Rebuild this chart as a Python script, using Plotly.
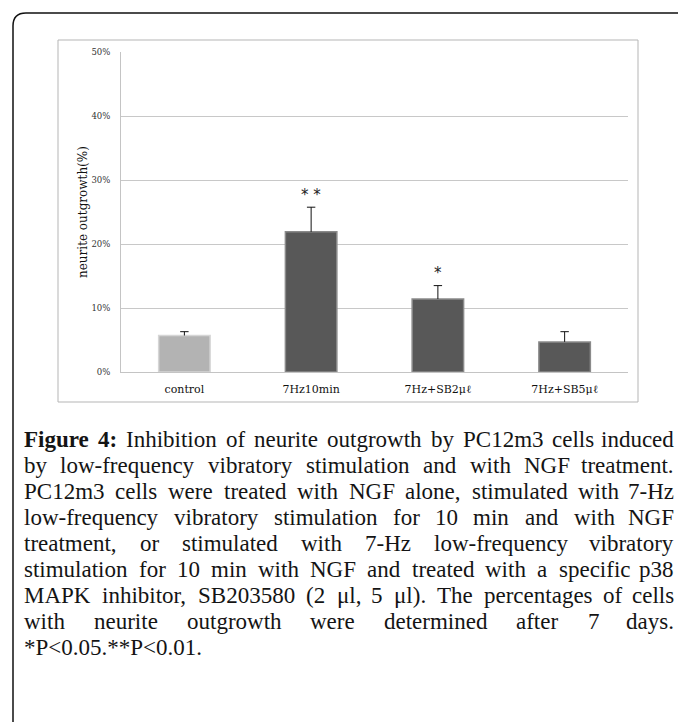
import plotly.graph_objects as go

# ---------------- data ----------------
categories = ["control", "7Hz10min", "7Hz+SB2μℓ", "7Hz+SB5μℓ"]
values = [5.7, 21.9, 11.4, 4.7]
errors = [0.6, 3.85, 2.1, 1.6]
significance = ["", "* *", "*", ""]
y_ticks = [0, 10, 20, 30, 40, 50]
y_tick_labels = ["0%", "10%", "20%", "30%", "40%", "50%"]
y_title = "neurite outgrowth(%)"
caption_bold_words = 2  # "Figure" and "4:" are bold
caption_lines = [
    "Figure 4: Inhibition of neurite outgrowth by PC12m3 cells induced",
    "by low-frequency vibratory stimulation and with NGF treatment.",
    "PC12m3 cells were treated with NGF alone, stimulated with 7-Hz",
    "low-frequency vibratory stimulation for 10 min and with NGF",
    "treatment, or stimulated with 7-Hz low-frequency vibratory",
    "stimulation for 10 min with NGF and treated with a specific p38",
    "MAPK inhibitor, SB203580 (2 μl, 5 μl). The percentages of cells",
    "with neurite outgrowth were determined after 7 days.",
    "*P<0.05.**P<0.01.",
]

# ---------------- layout geometry (pixels) ----------------
W_PX, H_PX = 678, 722
L, R, T, B = 121, 628, 52, 372


def fx(px):
    return (px - L) / (R - L)


def fy(py):
    return (B - py) / (B - T)


bar_colors = ["#b3b3b3", "#585858", "#585858", "#585858"]
bar_lines = ["#d6d6d6", "#8a8a8a", "#8a8a8a", "#8a8a8a"]

fig = go.Figure()
fig.add_trace(go.Bar(
    x=categories, y=values,
    marker=dict(color=bar_colors, line=dict(color=bar_lines, width=1.5)),
    showlegend=False, hoverinfo="skip",
))

# one-sided error bars (up only)
ex, ey = [], []
for c, v, e in zip(categories, values, errors):
    ex += [c, c, None]
    ey += [v, v + e, None]
fig.add_trace(go.Scatter(x=ex, y=ey, mode="lines",
                         line=dict(color="#111111", width=1),
                         showlegend=False, hoverinfo="skip"))
fig.add_trace(go.Scatter(x=categories, y=[v + e for v, e in zip(values, errors)],
                         mode="markers",
                         marker=dict(symbol="line-ew", size=6,
                                     line=dict(color="#111111", width=1)),
                         showlegend=False, hoverinfo="skip"))

annotations = []
for c, v, e, s in zip(categories, values, errors, significance):
    if s:
        annotations.append(dict(x=c, y=v + e + 1.9, xref="x", yref="y", text=s,
                                showarrow=False, yanchor="middle",
                                font=dict(family="DejaVu Sans", size=15, color="#222222")))

# y axis title
annotations.append(dict(x=fx(83), y=fy(212), xref="paper", yref="paper",
                        text=y_title, textangle=-90, showarrow=False,
                        xanchor="center", yanchor="middle",
                        font=dict(family="DejaVu Serif", size=12, color="#111111")))

# ---------------- caption (justified) ----------------
TIMES = {' ': 250, '!': 333, '(': 333, ')': 333, '*': 500, '+': 564, ',': 250, '-': 333,
         '.': 250, '/': 278, ':': 278, ';': 278, '<': 564, '=': 564, '>': 564, '?': 444,
         'A': 722, 'B': 667, 'C': 667, 'D': 722, 'E': 611, 'F': 556, 'G': 722, 'H': 722,
         'I': 333, 'J': 389, 'K': 722, 'L': 611, 'M': 889, 'N': 722, 'O': 722, 'P': 556,
         'Q': 722, 'R': 667, 'S': 556, 'T': 611, 'U': 722, 'V': 722, 'W': 944, 'X': 722,
         'Y': 722, 'Z': 611, 'a': 444, 'b': 500, 'c': 444, 'd': 500, 'e': 444, 'f': 333,
         'g': 500, 'h': 500, 'i': 278, 'j': 278, 'k': 500, 'l': 278, 'm': 778, 'n': 500,
         'o': 500, 'p': 500, 'q': 500, 'r': 333, 's': 389, 't': 278, 'u': 500, 'v': 500,
         'w': 722, 'x': 500, 'y': 500, 'z': 444, 'μ': 500}
TIMES_BOLD = dict(TIMES)
TIMES_BOLD.update({'F': 611, 'u': 556, 'r': 444, ':': 333, 'g': 500, 'i': 278, 'e': 444})


def text_w(s, fs, bold=False):
    tab = TIMES_BOLD if bold else TIMES
    return sum(tab.get(ch, 500) for ch in s) / 1000.0 * fs


def esc(s):
    return s.replace("&", "&amp;").replace("<", "&lt;").replace(">", "&gt;")


CAP_FS = 23
CAP_LEFT, CAP_RIGHT = 23, 675
CAP_BASE0, CAP_STEP = 447, 26
CAP_FONT = "Liberation Serif"
CAP_COLOR = "#141414"

for li, line in enumerate(caption_lines):
    base = CAP_BASE0 + li * CAP_STEP
    yc = base - 0.32 * CAP_FS
    words = line.split(" ")
    last = li == len(caption_lines) - 1
    if last:
        annotations.append(dict(x=fx(CAP_LEFT), y=fy(yc), xref="paper", yref="paper",
                                text=esc(line), showarrow=False, xanchor="left",
                                yanchor="middle", borderpad=0,
                                font=dict(family=CAP_FONT, size=CAP_FS, color=CAP_COLOR)))
        continue
    bolds = [(li == 0 and wi < caption_bold_words) for wi in range(len(words))]
    widths = [text_w(w, CAP_FS, b) for w, b in zip(words, bolds)]
    gap = (CAP_RIGHT - CAP_LEFT - sum(widths)) / max(1, len(words) - 1)
    xpos = CAP_LEFT
    for wi, (w, b, wd) in enumerate(zip(words, bolds, widths)):
        txt = "<b>" + esc(w) + "</b>" if b else esc(w)
        if wi == len(words) - 1 and wi > 0:
            annotations.append(dict(x=fx(CAP_RIGHT), y=fy(yc), xref="paper", yref="paper",
                                    text=txt, showarrow=False, xanchor="right",
                                    yanchor="middle", borderpad=0,
                                    font=dict(family=CAP_FONT, size=CAP_FS, color=CAP_COLOR)))
        else:
            annotations.append(dict(x=fx(xpos), y=fy(yc), xref="paper", yref="paper",
                                    text=txt, showarrow=False, xanchor="left",
                                    yanchor="middle", borderpad=0,
                                    font=dict(family=CAP_FONT, size=CAP_FS, color=CAP_COLOR)))
        xpos += wd + gap

# ---------------- frames ----------------
shapes = [
    # inner chart box
    dict(type="rect", xref="paper", yref="paper",
         x0=fx(58), x1=fx(638), y0=fy(402), y1=fy(40),
         line=dict(color="#b5b5b5", width=1), fillcolor="rgba(0,0,0,0)", layer="below"),
    # outer frame with rounded top-left corner
    dict(type="path", xref="paper", yref="paper",
         path=(f"M {fx(13)},{fy(730)} L {fx(13)},{fy(26)} "
               f"Q {fx(13)},{fy(13)} {fx(26)},{fy(13)} L {fx(690)},{fy(13)}"),
         line=dict(color="#111111", width=1.5)),
]

fig.update_layout(
    width=W_PX, height=H_PX,
    margin=dict(l=L, r=W_PX - R, t=T, b=H_PX - B, pad=0),
    paper_bgcolor="white", plot_bgcolor="white",
    bargap=0.594,
    annotations=annotations, shapes=shapes,
    xaxis=dict(showgrid=False, showline=True, linecolor="#c4c4c4", linewidth=1,
               ticks="", ticklabelstandoff=7,
               tickfont=dict(family="DejaVu Serif", size=11, color="#111111"),
               range=[-0.5, 3.5], fixedrange=True),
    yaxis=dict(range=[0, 50], tickvals=y_ticks, ticktext=y_tick_labels,
               showgrid=True, gridcolor="#c8c8c8", gridwidth=1,
               showline=True, linecolor="#c4c4c4", linewidth=1,
               ticks="", ticklabelstandoff=8, zeroline=False,
               tickfont=dict(family="DejaVu Serif", size=8.5, color="#333333"),
               fixedrange=True),
    showlegend=False,
)

fig.write_html("out.html", config={"displayModeBar": False},
               post_script="document.body.style.margin='0';document.body.style.overflow='hidden';")
